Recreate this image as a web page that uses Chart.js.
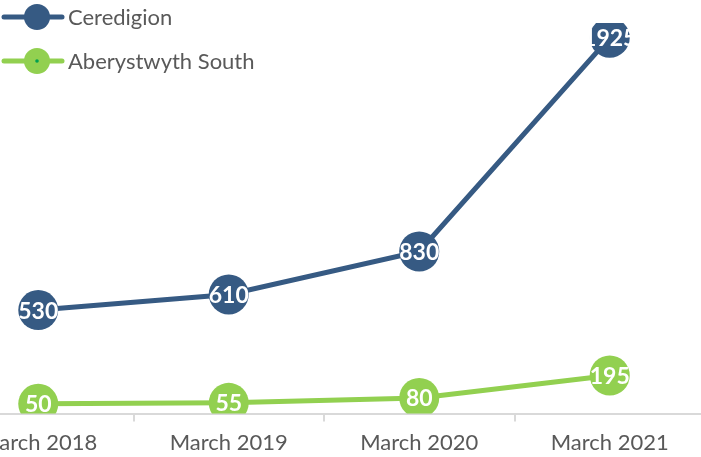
<!DOCTYPE html>
<html>
<head>
<meta charset="utf-8">
<script src="https://cdn.jsdelivr.net/npm/chart.js@4"></script>
<style>
  html, body { margin: 0; padding: 0; background: #fff; overflow: hidden; }
  #wrap { position: absolute; left: -57px; top: 0; width: 762px; height: 464px; }
</style>
</head>
<body>
<div id="wrap"><canvas id="chart"></canvas></div>
<script>
const categories = ["March 2018", "March 2019", "March 2020", "March 2021"];
const ceredigion = [530, 610, 830, 1925];
const aberSouth = [50, 55, 80, 195];
const seriesNames = ["Ceredigion", "Aberystwyth South"];
const blue = "#365a83";
const green = "#92d050";

// legend + value labels drawn straight onto the canvas
const extras = {
    id: "extras",
    afterDatasetsDraw(chart) {
        const ctx = chart.ctx;
        ctx.save();
        ctx.font = "bold 23px Lato, 'Open Sans', sans-serif";
        ctx.textAlign = "center";
        ctx.textBaseline = "middle";
        ctx.fillStyle = "#fff";
        chart.data.datasets.forEach((ds, i) => {
            chart.getDatasetMeta(i).data.forEach((pt, j) => {
                ctx.fillText(ds.data[j], pt.x, pt.y + 1);
            });
        });

        // legend, top left
        const ox = 57;
        const colors = [blue, green];
        [17, 61].forEach((y, i) => {
            ctx.strokeStyle = colors[i];
            ctx.lineWidth = 5;
            ctx.lineCap = "round";
            ctx.beginPath();
            ctx.moveTo(ox + 4, y);
            ctx.lineTo(ox + 62, y);
            ctx.stroke();
            ctx.fillStyle = colors[i];
            ctx.beginPath();
            ctx.arc(ox + 37, y, 13, 0, Math.PI * 2);
            ctx.fill();
            ctx.fillStyle = "#595959";
            ctx.textAlign = "left";
            ctx.font = "22px Lato, 'Open Sans', sans-serif";
            ctx.fillText(seriesNames[i], ox + 68, y + 1);
        });
        ctx.fillStyle = "#00a050";
        ctx.beginPath();
        ctx.arc(ox + 37, 61, 1.8, 0, Math.PI * 2);
        ctx.fill();
        ctx.restore();
    }
};

new Chart(document.getElementById("chart"), {
    type: "line",
    data: {
        labels: categories,
        datasets: [
            {
                label: seriesNames[0],
                data: ceredigion,
                borderColor: blue,
                backgroundColor: blue,
                borderWidth: 5,
                pointRadius: 20,
                pointHoverRadius: 20,
                pointBorderWidth: 0,
                tension: 0
            },
            {
                label: seriesNames[1],
                data: aberSouth,
                borderColor: green,
                backgroundColor: green,
                borderWidth: 5,
                pointRadius: 20,
                pointHoverRadius: 20,
                pointBorderWidth: 0,
                tension: 0
            }
        ]
    },
    options: {
        responsive: true,
        maintainAspectRatio: false,
        animation: false,
        layout: { autoPadding: false, padding: { top: 23, right: 0, left: 0, bottom: 0 } },
        plugins: {
            legend: { display: false },
            tooltip: { enabled: false }
        },
        scales: {
            x: {
                offset: true,
                grid: {
                    offset: true,
                    drawOnChartArea: false,
                    drawTicks: true,
                    tickLength: 8,
                    color: "#d9d9d9",
                    lineWidth: 2
                },
                border: { display: true, color: "#d9d9d9", width: 2 },
                ticks: {
                    color: "#595959",
                    font: { size: 22, family: "Lato, 'Open Sans', sans-serif" },
                    padding: 8,
                    maxRotation: 0
                }
            },
            y: {
                display: false,
                min: 0,
                max: 2000
            }
        }
    },
    plugins: [extras]
});
</script>
</body>
</html>
